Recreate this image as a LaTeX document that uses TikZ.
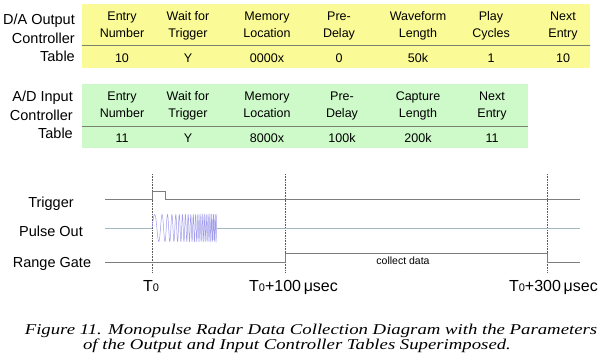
\documentclass[tikz,border=0pt]{standalone}
\usepackage{fontspec}
\setmainfont{Liberation Sans}
\newfontfamily\capfont{Liberation Serif}
\definecolor{dayellow}{RGB}{250,250,150}
\definecolor{adgreen}{RGB}{205,250,200}
\definecolor{sepline}{RGB}{120,130,110}
\definecolor{wavegray}{RGB}{125,125,125}
\definecolor{pulseline}{RGB}{165,185,195}
\definecolor{chirpcol}{RGB}{160,155,235}
\definecolor{mark}{RGB}{90,90,90}
\begin{document}
\begin{tikzpicture}[x=1pt,y=-1pt,
  hdr/.style={font=\fontsize{12.5}{17}\selectfont, align=center, inner sep=0pt, anchor=base},
  val/.style={font=\fontsize{12.5}{15}\selectfont, inner sep=0pt, anchor=base},
  tlabel/.style={font=\fontsize{14.5}{18.5}\selectfont, align=right, inner sep=0pt, anchor=base east},
  siglabel/.style={font=\fontsize{14.5}{17}\selectfont, inner sep=0pt, anchor=base},
  timelabel/.style={font=\fontsize{16}{18}\selectfont, inner sep=0pt, anchor=base},
  caption/.style={font=\capfont\itshape\fontsize{15}{15}\selectfont, inner sep=0pt, anchor=base, xscale=1.25},
  sig/.style={line width=0.9pt, color=wavegray},
  marker/.style={densely dotted, color=mark, line width=0.6pt},
  sep/.style={color=sepline, line width=0.8pt}]
\useasboundingbox (0,0) rectangle (600,361);
\newcommand{\zsub}{{\fontsize{11}{11}\selectfont\raisebox{-0.5pt}{0}}}

% D/A table
\fill[dayellow] (82,4) rectangle (590,68);
\draw[sep] (82,45) -- (590,45);
\node[tlabel] (dalab) at (75,62) {D/A Output\\Controller\\Table};
\foreach \x/\t/\v [count=\i] in {122/Entry\\Number/10, 188/Wait for\\Trigger/Y, 267/Memory\\Location/0000x, 339/Pre-\\Delay/0, 418/Waveform\\Length/50k, 491/Play\\Cycles/1, 563/Next\\Entry/10}{
  \node[hdr] (dah\i) at (\x,37.5) {\t};
  \node[val] (dav\i) at (\x,62.5) {\v};
}

% A/D table
\fill[adgreen] (82,84) rectangle (528,148);
\draw[sep] (82,126) -- (528,126);
\node[tlabel, font=\fontsize{14.5}{18}\selectfont] (adlab) at (73,138) {A/D Input\\Controller\\Table};
\foreach \x/\t/\v [count=\i] in {122/Entry\\Number/11, 188/Wait for\\Trigger/Y, 267/Memory\\Location/8000x, 342/Pre-\\Delay/100k, 418/Capture\\Length/200k, 492/Next\\Entry/11}{
  \node[hdr] (adh\i) at (\x,117.5) {\t};
  \node[val] (adv\i) at (\x,142.5) {\v};
}

% timing markers
\coordinate (m0t) at (152,174); \coordinate (m0b) at (152,272);
\coordinate (m1t) at (285,174); \coordinate (m1b) at (285,272);
\coordinate (m3t) at (547,174); \coordinate (m3b) at (547,272);
\draw[marker] (m0t) -- (m0b);
\draw[marker] (m1t) -- (m1b);
\draw[marker] (m3t) -- (m3b);

% signal labels
\node[siglabel] (trig) at (51,207) {Trigger};
\node[siglabel] (pout) at (51,236) {Pulse Out};
\node[siglabel] (rgate) at (52,267) {Range Gate};

% trigger
\draw[sig] (105,199) -- (152,199) -- (152,191) -- (165,191) -- (165,199) -- (580,199);
% pulse out
\draw[pulseline, line width=0.9pt] (105,228) -- (152,228);
\draw[pulseline, line width=0.9pt] (217,228) -- (580,228);
\draw[chirpcol, line width=0.5pt] plot[domain=0:65, samples=900, smooth] ({152+\x},{228-13.5*sin(360*(\x/12+\x*\x/250))});
% range gate
\draw[sig] (105,262) -- (285,262) -- (285,253) -- (547,253) -- (547,262) -- (580,262);
\node[font=\fontsize{10.5}{12}\selectfont, inner sep=0pt, anchor=base] (collect) at (403,264) {collect data};

% time labels
\node[timelabel] (t0) at (151,291) {T\zsub};
\node[timelabel, anchor=base west] (t100) at (249,291) {T\zsub+100\,μsec};
\node[timelabel, anchor=base east] (t300) at (598,291) {T\zsub+300\,μsec};

% caption
\node[caption] (cap1) at (311,334) {Figure 11. Monopulse Radar Data Collection Diagram with the Parameters};
\node[caption] (cap2) at (297,349) {of the Output and Input Controller Tables Superimposed.};
\end{tikzpicture}
\end{document}
